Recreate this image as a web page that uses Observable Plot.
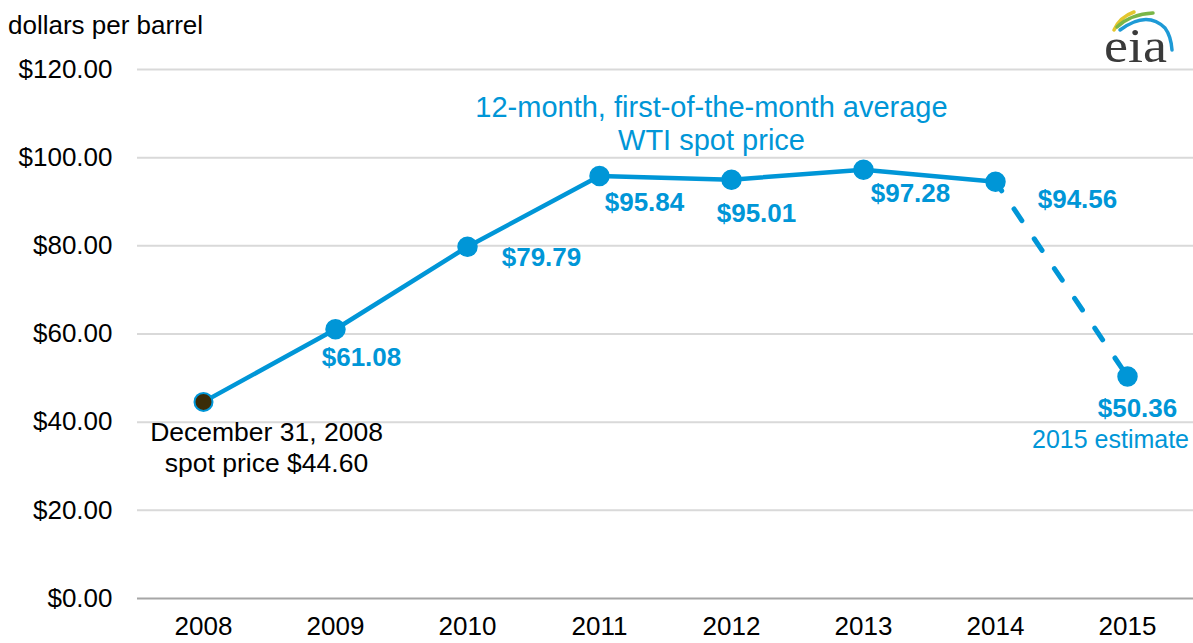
<!DOCTYPE html>
<html><head><meta charset="utf-8">
<script src="https://cdn.jsdelivr.net/npm/d3@7"></script>
<script src="https://cdn.jsdelivr.net/npm/@observablehq/plot@0.6"></script>
<style>
body{margin:0;background:#fff;font-family:"Liberation Sans",Arial,sans-serif;}
#wrap{position:relative;width:1193px;height:643px;}
#title{position:absolute;left:8px;top:10px;font-size:26px;color:#000;white-space:nowrap;}
#logo{position:absolute;left:1095px;top:0px;}
</style></head>
<body><div id="wrap">
<div id="chart"></div>
<div id="title">dollars per barrel</div>
<svg id="logo" width="95" height="72" viewBox="0 0 95 72">
  <path d="M19 30 Q25 17 39 12" stroke="#e3c62e" stroke-width="3.5" fill="none" stroke-linecap="round"/>
  <path d="M22 27 Q36 14 58 13" stroke="#7ab648" stroke-width="3.5" fill="none" stroke-linecap="round"/>
  <path d="M25 30 Q52 10 70 28 Q76 36 77 50" stroke="#1e9ad6" stroke-width="3.5" fill="none" stroke-linecap="round"/>
  <text x="9" y="62" font-family="Liberation Serif,serif" font-size="48" textLength="63" lengthAdjust="spacingAndGlyphs" fill="#3a3a3a">eia</text>
</svg>
</div>
<script>
const years = ["2008","2009","2010","2011","2012","2013","2014","2015"];
const prices = [44.60, 61.08, 79.79, 95.84, 95.01, 97.28, 94.56, 50.36];
const priceLabels = ["", "$61.08", "$79.79", "$95.84", "$95.01", "$97.28", "$94.56", "$50.36"];
const yTicks = [0, 20, 40, 60, 80, 100, 120];
const seriesNote = "12-month, first-of-the-month average\nWTI spot price";
const startNote = "December 31, 2008\nspot price $44.60";
const estimateNote = "2015 estimate";

const blue = "#0096d7";
const data = years.map((y, i) => ({year: y, price: prices[i], label: priceLabels[i]}));
const solid = data.slice(0, 7);
const dashed = data.slice(6);
// label offsets [dx, dy] in pixels, relative to each point
const labelOffsets = [[0,0],[26,28],[74,11],[45,27],[25,34],[47,24],[82,18],[10,32]];

const labelMarks = data.slice(1).map((d, k) => {
  const [dx, dy] = labelOffsets[k + 1];
  return Plot.text([d], {x: "year", y: "price", text: "label", fill: blue, fontWeight: "bold",
    fontSize: 26, dx, dy});
});

const chart = Plot.plot({
  width: 1193, height: 643,
  marginLeft: 137, marginRight: 0, marginTop: 69, marginBottom: 45,
  style: {fontFamily: "Liberation Sans, Arial, sans-serif", fontSize: "26px", color: "#000", background: "#fff", overflow: "visible"},
  x: {type: "point", domain: years, padding: 0.5, label: null, tickSize: 0, tickPadding: 18},
  y: {domain: [0, 120], label: null, ticks: yTicks, tickSize: 0, tickPadding: 25,
      tickFormat: d => "$" + d.toFixed(2)},
  marks: [
    Plot.ruleY(yTicks.filter(d => d > 0), {stroke: "#d9d9d9", strokeWidth: 2}),
    Plot.ruleY([0], {stroke: "#a6a6a6", strokeWidth: 2}),
    Plot.line(solid, {x: "year", y: "price", stroke: blue, strokeWidth: 4.5}),
    Plot.line(dashed, {x: "year", y: "price", stroke: blue, strokeWidth: 5, strokeDasharray: "14 22", strokeDashoffset: 3, strokeLinecap: "round"}),
    Plot.dot(data.slice(1), {x: "year", y: "price", r: 9.5, fill: blue, stroke: blue}),
    Plot.dot(data.slice(0, 1), {x: "year", y: "price", r: 9, fill: "#3a2c08", stroke: blue, strokeWidth: 2}),
    ...labelMarks,
    Plot.text([data[0]], {x: "year", y: "price", text: () => startNote, fill: "#000", fontSize: 26.5, lineHeight: 1.15, dx: 63, dy: 45}),
    Plot.text([data[7]], {x: "year", y: "price", text: () => estimateNote, fill: blue, fontSize: 25, dx: -17, dy: 64}),
    Plot.text([data[4]], {x: "year", y: "price", text: () => seriesNote, fill: blue, fontSize: 29, lineHeight: 1.15, dx: -20, dy: -57}),
  ]
});
document.getElementById("chart").append(chart);
</script>
</body></html>
